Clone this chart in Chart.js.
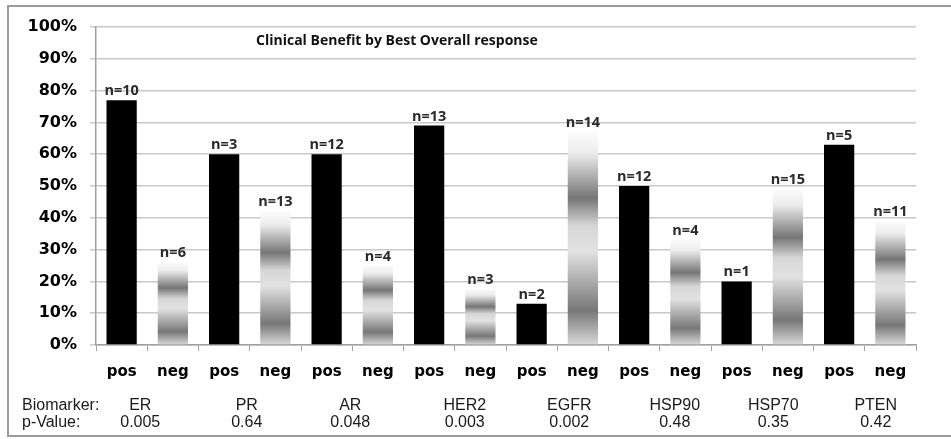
<!DOCTYPE html>
<html>
<head>
<meta charset="utf-8">
<script src="https://cdn.jsdelivr.net/npm/chart.js@4"></script>
<style>
  html, body { margin: 0; padding: 0; background: #fff; }
  #wrap { position: relative; width: 951px; height: 439px; }
</style>
</head>
<body>
<div id="wrap"><canvas id="benefit_chart" width="951" height="439"></canvas></div>
<script>
// data
const statusLabels = ['pos','neg','pos','neg','pos','neg','pos','neg','pos','neg','pos','neg','pos','neg','pos','neg'];
const benefitPct   = [77, 26, 60, 42, 60, 25, 69, 17.5, 13, 67, 50, 33, 20, 49, 63, 39];
const sampleN      = [10, 6, 3, 13, 12, 4, 13, 3, 2, 14, 12, 4, 1, 15, 5, 11];
const biomarkers   = ['ER','PR','AR','HER2','EGFR','HSP90','HSP70','PTEN'];
const pValues      = ['0.005','0.64','0.048','0.003','0.002','0.48','0.35','0.42'];
const yTicks       = [0,10,20,30,40,50,60,70,80,90,100];

function negGradient(ctx, top, bottom){
    const g = ctx.createLinearGradient(0, top, 0, bottom);
    g.addColorStop(0.00, '#fbfbfb');
    g.addColorStop(0.10, '#ececec');
    g.addColorStop(0.31, '#767676');
    g.addColorStop(0.44, '#d6d6d6');
    g.addColorStop(0.56, '#e2e2e2');
    g.addColorStop(0.84, '#777777');
    g.addColorStop(1.00, '#d9d9d9');
    return g;
}

function barColor(context){
    const i = context.dataIndex;
    if(statusLabels[i] === 'pos') return '#000000';
    const chart = context.chart;
    const y = chart.scales.y;
    if(!chart.chartArea || !y) return '#bbbbbb';
    const top = y.getPixelForValue(benefitPct[i]);
    const bottom = y.getPixelForValue(0);
    return negGradient(chart.ctx, top, bottom);
}

// frame, title, n= labels and the biomarker rows
const decorPlugin = {
    id: 'decor',
    beforeDraw(chart){
        const ctx = chart.ctx;
        ctx.save();
        ctx.fillStyle = '#ffffff';
        ctx.fillRect(0, 0, chart.width, chart.height);
        ctx.strokeStyle = '#9a9a9a';
        ctx.lineWidth = 2;
        ctx.beginPath();
        ctx.moveTo(chart.width, 6);
        ctx.lineTo(8, 6);
        ctx.lineTo(8, 436);
        ctx.lineTo(chart.width, 436);
        ctx.stroke();
        ctx.restore();
    },
    afterDatasetsDraw(chart){
        const ctx = chart.ctx;
        const meta = chart.getDatasetMeta(0);
        ctx.save();
        ctx.fillStyle = '#2a2a2a';
        ctx.textAlign = 'center';
        ctx.textBaseline = 'alphabetic';
        ctx.font = 'bold 14.5px "Open Sans"';
        meta.data.forEach(function(bar, i){
            ctx.fillText('n=' + sampleN[i], bar.x, bar.y - 5);
        });

        ctx.textAlign = 'left';
        ctx.textBaseline = 'middle';
        ctx.font = 'bold 14px "Open Sans"';
        ctx.fillStyle = '#111';
        ctx.fillText('Clinical Benefit by Best Overall response', 256, 41);

        const x = chart.scales.x;
        const shift = [-7, -3, -2, 10, 12, 15, 11, 11];
        ctx.font = '16px "Liberation Sans"';
        ctx.fillStyle = '#1a1a1a';
        ctx.textAlign = 'left';
        ctx.fillText('Biomarker:', 22, 406);
        ctx.fillText('p-Value:', 22, 423);
        ctx.textAlign = 'center';
        biomarkers.forEach(function(name, g){
            const cx = (x.getPixelForValue(g * 2) + x.getPixelForValue(g * 2 + 1)) / 2 + shift[g];
            ctx.fillText(name, cx, 406);
            ctx.fillText(pValues[g], cx, 423);
        });
        ctx.restore();
    }
};

const ctx = document.getElementById('benefit_chart').getContext('2d');
var chart = new Chart(ctx, {
    type: 'bar',
    data: {
        labels: statusLabels,
        datasets: [{
            label: 'Clinical Benefit',
            data: benefitPct,
            backgroundColor: barColor,
            borderWidth: 0,
            categoryPercentage: 1.0,
            barPercentage: 0.59
        }]
    },
    options: {
        responsive: false,
        animation: false,
        layout: {
            padding: { left: 0, right: 35, top: 27, bottom: 54 }
        },
        plugins: {
            legend: { display: false },
            tooltip: { enabled: false }
        },
        scales: {
            x: {
                offset: true,
                grid: {
                    offset: true,
                    drawOnChartArea: false,
                    drawTicks: true,
                    tickLength: 6,
                    color: '#a0a0a0'
                },
                border: { color: '#a0a0a0', width: 1.5 },
                ticks: {
                    color: '#000',
                    font: { family: '"DejaVu Sans"', size: 15, weight: 'bold' },
                    padding: 12,
                    maxRotation: 0,
                    autoSkip: false
                },
                afterFit: function(scale){ scale.height = 40; }
            },
            y: {
                min: 0,
                max: 100,
                afterBuildTicks: function(scale){
                    scale.ticks = yTicks.map(function(v){ return { value: v }; });
                },
                grid: {
                    color: '#c8c8c8',
                    lineWidth: 1.5,
                    tickLength: 6
                },
                border: { color: '#a0a0a0', width: 1.5 },
                ticks: {
                    color: '#000',
                    font: { family: '"DejaVu Sans"', size: 16, weight: 'bold' },
                    padding: 13,
                    callback: function(v){ return v + '%'; }
                },
                afterFit: function(scale){ scale.width = 96; }
            }
        }
    },
    plugins: [decorPlugin]
});
</script>
</body>
</html>
